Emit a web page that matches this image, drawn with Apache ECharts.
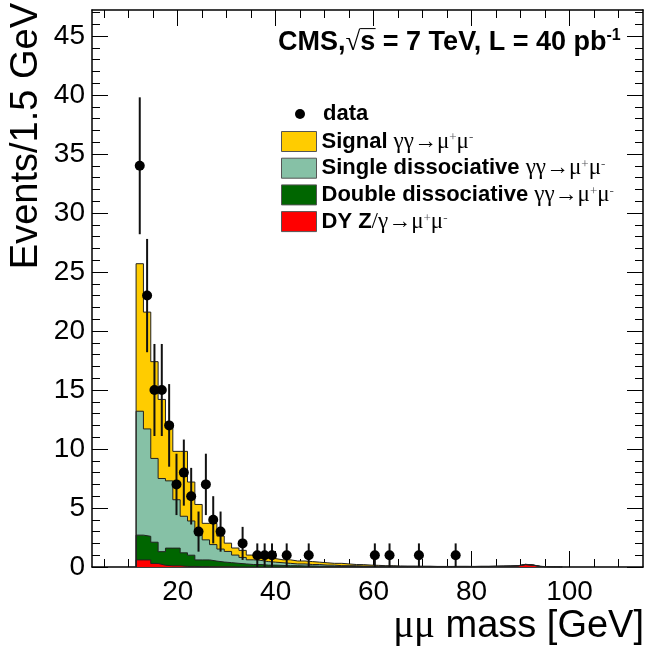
<!DOCTYPE html>
<html>
<head>
<meta charset="utf-8">
<script src="https://cdn.jsdelivr.net/npm/echarts@6/dist/echarts.min.js"></script>
<style>
  html, body { margin: 0; padding: 0; background: #fff; }
  #chart { width: 647px; height: 646px; }
</style>
</head>
<body>
<div id="chart"></div>
<script>
// histogram binning (GeV)
const binStart = 11.5
const binWidth = 1.5

// stacked MC components, events per bin
const signalValues = [12.5, 9.9, 8.2, 6.7, 4.9, 4.1, 5.5, 3.3, 2.3, 1.4, 1.8, 1.1, 0.7, 0.6, 0.6, 0.4, 0.45, 0.35, 0.3, 0.25,
  0.3, 0.25, 0.25, 0.25, 0.2, 0.2, 0.15, 0.2, 0.15, 0.1, 0.12, 0.09, 0.07, 0.05, 0.05, 0.05, 0.04, 0.04, 0.03, 0.03,
  0.02, 0.02, 0.02, 0.02, 0.02, 0.01, 0.01, 0.01, 0.01, 0.01, 0.01, 0.01, 0.01, 0.01, 0.01, 0.01, 0, 0]
const singleValues = [10.5, 9.1, 7.1, 6.2, 5.7, 4.1, 3.1, 2.9, 2.4, 1.7, 1.4, 1.1, 0.95, 0.7, 0.55, 0.4, 0.35, 0.3, 0.25, 0.23,
  0.2, 0.15, 0.17, 0.12, 0.14, 0.1, 0.1, 0.06, 0.06, 0.07, 0.05, 0.04, 0.04, 0.03, 0.03, 0.02, 0.02, 0.02, 0.02, 0.02,
  0.01, 0.01, 0.01, 0.01, 0.01, 0.01, 0.01, 0.01, 0.01, 0.01, 0.01, 0.01, 0.01, 0.01, 0, 0, 0, 0]
const doubleValues = [2.1, 2.0, 1.8, 1.15, 1.5, 1.5, 1.15, 0.95, 0.57, 0.57, 0.48, 0.4, 0.35, 0.3, 0.25, 0.2, 0.2, 0.15, 0.15, 0.12,
  0.1, 0.1, 0.08, 0.08, 0.06, 0.05, 0.05, 0.04, 0.04, 0.03, 0.02, 0.02, 0.02, 0.02, 0.02, 0.01, 0.01, 0.01, 0.01, 0.01,
  0.01, 0.01, 0.01, 0.01, 0.01, 0.01, 0.01, 0.01, 0.01, 0.01, 0.01, 0.01, 0.01, 0.01, 0, 0, 0, 0]
const dyValues = [0.6, 0.6, 0.3, 0.15, 0.1, 0.1, 0.05, 0.05, 0.03, 0.03, 0.02, 0.02, 0.02, 0.01, 0.01, 0.01, 0.01, 0.01, 0.01, 0.01,
  0.01, 0.01, 0.01, 0.01, 0.01, 0.01, 0.01, 0.01, 0.01, 0.01, 0.01, 0.01, 0.01, 0.01, 0.01, 0.01, 0.01, 0.01, 0.01, 0.01,
  0.01, 0.01, 0.01, 0.02, 0.02, 0.02, 0.03, 0.03, 0.04, 0.05, 0.06, 0.08, 0.2, 0.15, 0.05, 0.02, 0.01, 0]

// measured data
const dataMass = [12.25, 13.75, 15.25, 16.75, 18.25, 19.75, 21.25, 22.75, 24.25, 25.75, 27.25, 28.75,
  33.25, 36.25, 37.75, 39.25, 42.25, 46.75, 60.25, 63.25, 69.25, 76.75]
const dataCount = [34, 23, 15, 15, 12, 7, 8, 6, 3, 7, 4, 3, 2, 1, 1, 1, 1, 1, 1, 1, 1, 1]
const dataError = [5.8, 4.8, 3.9, 3.9, 3.5, 2.6, 2.8, 2.4, 1.7, 2.6, 2, 1.7, 1.4, 1, 1, 1, 1, 1, 1, 1, 1, 1]

// axis ticks
const xMajor = [20, 40, 60, 80, 100]
const xMinor = [5, 10, 15, 25, 30, 35, 45, 50, 55, 65, 70, 75, 85, 90, 95, 105, 110]
const yMajor = [0, 5, 10, 15, 20, 25, 30, 35, 40, 45]
const yMinor = []
for (let v = 1; v <= 47; v++) if (v % 5 !== 0) yMinor.push(v)

const SANS = '"Liberation Sans", Arial, Helvetica, sans-serif'
const SERIF = '"Liberation Serif", "DejaVu Serif", serif'

// turn stacked bin contents into a closed step outline
function stepLine(layers) {
  const pts = [[binStart, 0]]
  let last = 0
  for (let i = 0; i < layers[0].length; i++) {
    let sum = 0
    layers.forEach(l => { sum += l[i] })
    pts.push([binStart + i * binWidth, sum])
    last = sum
  }
  const end = binStart + layers[0].length * binWidth
  pts.push([end, last])
  pts.push([end, 0])
  return pts
}

function histSeries(name, layers, fill) {
  return {
    name: name,
    type: 'line',
    step: 'end',
    showSymbol: false,
    symbol: 'none',
    silent: true,
    z: 3,
    data: stepLine(layers),
    itemStyle: { color: fill },
    lineStyle: { color: '#222', width: 1 },
    areaStyle: { color: fill, opacity: 1 }
  }
}

function axisX(pos, major) {
  return {
    type: 'value', position: pos, min: 2.5, max: 115,
    axisLine: { show: major, onZero: false, lineStyle: { color: '#000', width: 1.5 } },
    axisTick: { inside: true, length: major ? 16 : 8, customValues: major ? xMajor : xMinor, lineStyle: { color: '#000', width: 1 } },
    axisLabel: { show: major && pos === 'bottom', customValues: xMajor, fontSize: 28, fontFamily: SANS, color: '#000', margin: 11 },
    splitLine: { show: false }
  }
}

function axisY(pos, major) {
  return {
    type: 'value', position: pos, min: 0, max: 47.2,
    axisLine: { show: major, onZero: false, lineStyle: { color: '#000', width: 1.5 } },
    axisTick: { inside: true, length: major ? 16 : 8, customValues: major ? yMajor : yMinor, lineStyle: { color: '#000', width: 1 } },
    axisLabel: { show: major && pos === 'left', customValues: yMajor, fontSize: 28, fontFamily: SANS, color: '#000', margin: 7 },
    splitLine: { show: false }
  }
}

const sup = { fontSize: 13, fontFamily: SERIF, verticalAlign: 'top', lineHeight: 20 }
const legendRich = {
  b: { fontSize: 22, fontWeight: 'bold', fontFamily: SANS, color: '#000', lineHeight: 20 },
  d: { fontSize: 22, fontWeight: 'bold', fontFamily: SANS, color: '#000', lineHeight: 20, padding: [0, 0, 0, 13] },
  g: { fontSize: 23, fontFamily: SERIF, color: '#000', lineHeight: 20 },
  s: sup
}
const proc = '{g|γγ→μ}{s|+}{g|μ}{s|-}'
const legendLabels = {
  'data': '{d|data}',
  'Signal': '{b|Signal }' + proc,
  'Single dissociative': '{b|Single dissociative }' + proc,
  'Double dissociative': '{b|Double dissociative }' + proc,
  'DY': '{b|DY Z}{g|/γ→μ}{s|+}{g|μ}{s|-}'
}

const chart = echarts.init(document.getElementById('chart'))

chart.setOption({
  animation: false,
  backgroundColor: '#fff',
  grid: { left: 92, right: 4, top: 10, bottom: 79, containLabel: false, outerBoundsMode: 'none' },
  title: {
    text: '{b|CMS,}{r|√}{b|s\u0305 = 7 TeV, L = 40 pb}{p|-1}',
    left: 278, top: 28, padding: 0,
    textStyle: {
      rich: {
        b: { fontSize: 27, fontWeight: 'bold', fontFamily: SANS, color: '#000', lineHeight: 30 },
        r: { fontSize: 27, fontFamily: SERIF, color: '#000', lineHeight: 30 },
        p: { fontSize: 16, fontWeight: 'bold', fontFamily: SANS, color: '#000', verticalAlign: 'top', lineHeight: 30 }
      }
    }
  },
  legend: [
    {
      data: [{ name: 'data', icon: 'circle' }],
      left: 295, top: 103, padding: 0,
      itemWidth: 10, itemHeight: 10,
      selectedMode: false,
      formatter: n => legendLabels[n],
      textStyle: { rich: legendRich }
    },
    {
      data: ['Signal', 'Single dissociative', 'Double dissociative', 'DY'].map(n => ({
        name: n, icon: 'rect', itemStyle: { borderColor: '#555', borderWidth: 1 }
      })),
      orient: 'vertical',
      left: 281, top: 130, padding: 0,
      itemWidth: 35, itemHeight: 20, itemGap: 3.7,
      selectedMode: false,
      formatter: n => legendLabels[n],
      textStyle: { rich: legendRich }
    }
  ],
  xAxis: [axisX('bottom', true), axisX('bottom', false), axisX('top', true), axisX('top', false)],
  yAxis: [axisY('left', true), axisY('left', false), axisY('right', true), axisY('right', false)],
  graphic: [
    {
      type: 'text', x: 27, y: 3, rotation: Math.PI / 2,
      style: { text: 'Events/1.5 GeV', font: '38px ' + SANS, fill: '#000', align: 'right', verticalAlign: 'middle' }
    },
    {
      type: 'text', x: 644, y: 627,
      style: {
        text: '{g|μμ}{n| mass [GeV]}', align: 'right', verticalAlign: 'middle',
        rich: {
          g: { fontSize: 39, fontFamily: SERIF, fill: '#000' },
          n: { fontSize: 38, fontFamily: SANS, fill: '#000' }
        }
      }
    }
  ],
  series: [
    histSeries('Signal', [signalValues, singleValues, doubleValues, dyValues], '#ffcc00'),
    histSeries('Single dissociative', [singleValues, doubleValues, dyValues], '#86c1a6'),
    histSeries('Double dissociative', [doubleValues, dyValues], '#006600'),
    histSeries('DY', [dyValues], '#ff0000'),
    {
      name: 'dataErr',
      type: 'custom',
      silent: true,
      z: 10,
      data: dataMass.map((m, i) => [m, dataCount[i], dataError[i]]),
      renderItem: (params, api) => {
        const top = api.coord([api.value(0), api.value(1) + api.value(2)])
        const bot = api.coord([api.value(0), api.value(1) - api.value(2)])
        return {
          type: 'line',
          shape: { x1: top[0], y1: top[1], x2: bot[0], y2: bot[1] },
          style: { stroke: '#111', lineWidth: 2 }
        }
      }
    },
    {
      name: 'data',
      type: 'scatter',
      symbol: 'circle',
      symbolSize: 10,
      z: 11,
      itemStyle: { color: '#000', opacity: 1 },
      data: dataMass.map((m, i) => [m, dataCount[i]])
    }
  ]
})
</script>
</body>
</html>
